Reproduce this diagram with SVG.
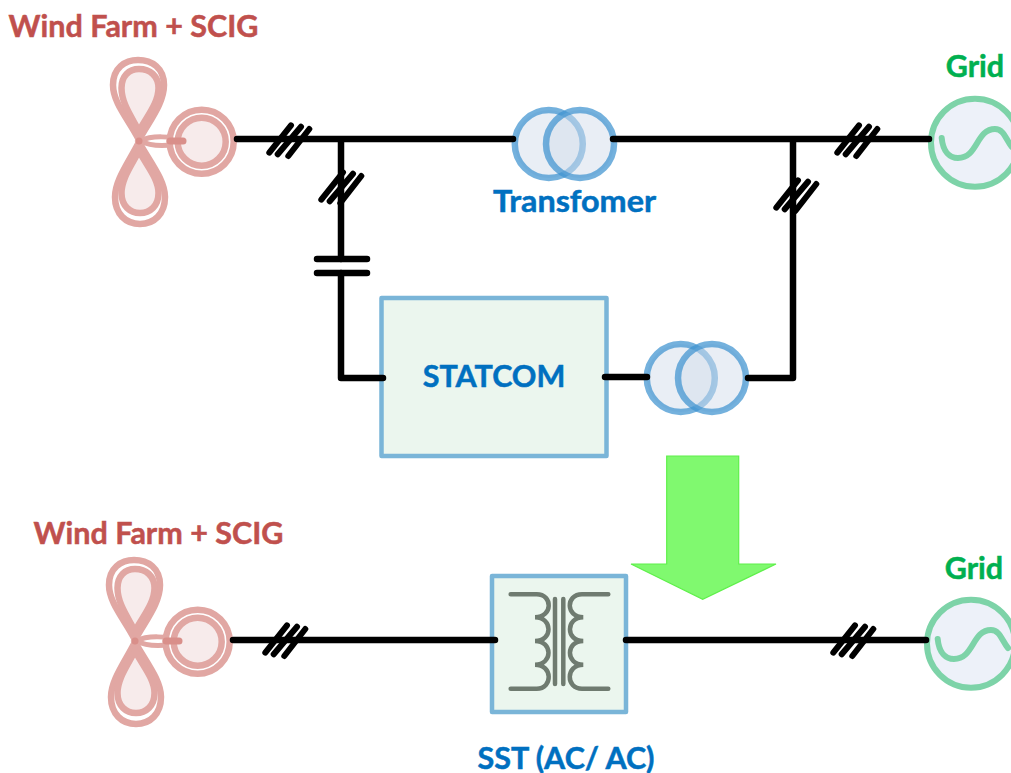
<svg xmlns="http://www.w3.org/2000/svg" xmlns:xlink="http://www.w3.org/1999/xlink" width="1011" height="773" viewBox="0 0 1011 773">
<style>
text{font-family:Lato,"Open Sans","Liberation Sans",sans-serif;font-weight:700;font-size:30.5px;text-anchor:middle;stroke-width:.5}
.red{fill:#c0504d;stroke:#c0504d}.green{fill:#00b050;stroke:#00b050}.blue{fill:#0070c0;stroke:#0070c0}
.w{fill:none;stroke:#000;stroke-width:6.500;stroke-linecap:round;stroke-linejoin:round}
.h{fill:none;stroke:#000;stroke-width:6;stroke-linecap:round}
.t{fill:#f7ebeb;stroke:#e1a7a3;stroke-width:6.500}
.n{fill:none}
.d{fill:none;stroke:#d98f8a;stroke-linecap:round}
.tf{fill:#d4ddec;fill-opacity:.5;stroke:#3f93d0;stroke-opacity:.72;stroke-width:6.500}
.box{fill:#ebf6ee;stroke:#7ab5d8;stroke-width:4.500;stroke-linejoin:round}
.coil{fill:none;stroke:#6f7b70;stroke-width:4.500;stroke-linecap:round}
.g{fill:#edf1f9;stroke:#7dd3a8;stroke-width:6}
.gs{fill:none;stroke:#7dd3a8;stroke-width:6;stroke-linecap:round}
</style>
<defs>
<g id="turbine">
<path class="t n" d="M139,140C129,120 113,103 113,85C113,68 125,60 138,60C152,60 164,68 164,85C164,103 150,120 139,140Z"/>
<path class="t" d="M139,131C131,116 121.500,103 121.500,88C121.500,76 129,69 139,69C150,69 158.500,76 158.500,88C158.500,103 147,116 139,131Z"/>
<path class="t n" d="M139,142C129,162 115,180 115,197C115,214 126,224 140,224C154,224 165,214 165,197C165,180 150,162 139,142Z"/>
<path class="t" d="M139,151C131,166 121.500,179 121.500,193C121.500,206 130,213 140,213C150,213 158.500,206 158.500,193C158.500,179 147,166 139,151Z"/>
<path class="t n" style="stroke-width:5" d="M140,141C152,135 172,136 183,141C172,147 152,147 140,141Z"/>
<circle class="t" style="fill:#fff" cx="201.700" cy="141.700" r="32"/>
<circle class="t" cx="201.700" cy="141.700" r="24"/>
<path class="d" stroke-width="7" d="M170,141L183,141"/>
<circle cx="139" cy="141" r="3.500" fill="#d98f8a"/>
</g>
<g id="source">
<circle class="g" cx="975" cy="142.700" r="44"/>
<path class="gs" d="M941.700,138C943,152 950,158 958,158C978,158 976,129 995,129C1004,129 1006,140 1012,147"/>
</g>
<g id="transformer">
<circle class="tf" cx="548.800" cy="144" r="34"/>
<circle class="tf" cx="580" cy="144" r="34"/>
</g>
<g id="tick">
<path class="h" d="M269.300,152.700L291,125.300M277.700,154.300L301,126.700M288.300,156L309.300,129"/>
</g>
</defs>
<g id="wind-farm-top"><use xlink:href="#turbine"/><text x="133.500" y="37" class="red">Wind Farm + SCIG</text></g>
<g id="grid-top"><use xlink:href="#source"/><text x="975" y="77" class="green">Grid</text></g>
<g id="transformer-top"><use xlink:href="#transformer"/><text x="574.500" y="212" textLength="163" lengthAdjust="spacingAndGlyphs" class="blue">Transfomer</text></g>
<g id="transformer-statcom"><use xlink:href="#transformer" transform="translate(132,234)"/></g>
<g id="statcom"><rect class="box" x="381.500" y="298" width="225" height="158"/><text x="494" y="387" class="blue">STATCOM</text></g>
<g id="arrow"><path d="M666.700,456H738.700V564H776L702.700,599.300L631,564H666.700Z" fill="#80f96f" stroke="#5ef04a" stroke-width="1.200"/></g>
<g id="wind-farm-bottom"><use xlink:href="#turbine" transform="translate(-4,500)"/><text x="158.500" y="544" class="red">Wind Farm + SCIG</text></g>
<g id="sst">
<rect class="box" x="492" y="576" width="134" height="136"/>
<path class="coil" d="M510.700,594.300H536.700C553,594.300 553,617.300 535,617.300C553,617.300 553,641 535,641C553,641 553,664.700 535,664.700C553,664.700 553,688.700 536.700,688.700H510.700"/>
<path class="coil" d="M608.300,594.300H582C565.500,594.300 565.500,617.300 583.300,617.300C565.500,617.300 565.500,641 583.300,641C565.500,641 565.500,664.700 583.300,664.700C565.500,664.700 565.500,688.700 582,688.700H608.300"/>
<path class="coil" d="M555,599V684M563.300,599V684"/>
<text x="566" y="769" class="blue">SST (AC/ AC)</text>
</g>
<g id="grid-bottom"><use xlink:href="#source" transform="translate(-4,501)"/><text x="974" y="579" class="green">Grid</text></g>
<g id="connectors">
<path class="w" d="M237,139H513M613,139H929M341,139V259M341,273V378H383M793,139V378H748M605,377H647M233,640H495M626,640H926"/>
<path class="w" d="M317,259H367M317,273H367"/>
<use xlink:href="#tick"/>
<use xlink:href="#tick" transform="translate(568,0)"/>
<use xlink:href="#tick" transform="translate(52,47)"/>
<use xlink:href="#tick" transform="translate(507,55)"/>
<use xlink:href="#tick" transform="translate(-4,500)"/>
<use xlink:href="#tick" transform="translate(564,500)"/>
</g>
</svg>
